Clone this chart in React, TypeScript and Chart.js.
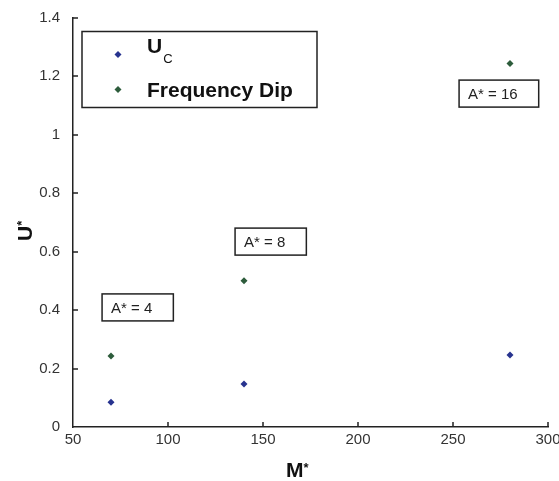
import React, { useEffect, useRef } from "react";
import { Chart, registerables } from "chart.js";

Chart.register(...registerables);

// ---- data ----
const ucMass = [70, 140, 280];
const ucValues = [0.085, 0.147, 0.246];
const dipMass = [70, 140, 280];
const dipValues = [0.243, 0.5, 1.243];
const xTickValues = [50, 100, 150, 200, 250, 300];
const yTickValues = [0, 0.2, 0.4, 0.6, 0.8, 1, 1.2, 1.4];
const annotationTexts = ["A* = 4", "A* = 8", "A* = 16"];
const annotationMass = [65.3, 135.3, 253.2];
const annotationU = [0.455, 0.68, 1.186];
const seriesNames = ["U", "Frequency Dip"];

const FONT = "'Liberation Sans', Arial, Helvetica, sans-serif";
const UC_COLOR = "#27338f";
const DIP_COLOR = "#2d5c3b";
const AXIS_COLOR = "#222";

const diamond = (ctx: CanvasRenderingContext2D, x: number, y: number, r: number, color: string) => {
  ctx.save();
  ctx.fillStyle = color;
  ctx.beginPath();
  ctx.moveTo(x, y - r);
  ctx.lineTo(x + r, y);
  ctx.lineTo(x, y + r);
  ctx.lineTo(x - r, y);
  ctx.closePath();
  ctx.fill();
  ctx.restore();
};

const decorPlugin = {
  id: "decor",
  afterDatasetsDraw(chart: any) {
    const ctx: CanvasRenderingContext2D = chart.ctx;
    const xs = chart.scales.x;
    const ys = chart.scales.y;
    const area = chart.chartArea;

    // inward tick marks
    ctx.save();
    ctx.strokeStyle = AXIS_COLOR;
    ctx.lineWidth = 1.5;
    ctx.beginPath();
    xTickValues.forEach((v) => {
      if (v === xTickValues[0]) return;
      const px = Math.round(xs.getPixelForValue(v));
      ctx.moveTo(px, area.bottom);
      ctx.lineTo(px, area.bottom - 5);
    });
    yTickValues.forEach((v) => {
      if (v === yTickValues[0]) return;
      const py = Math.round(ys.getPixelForValue(v));
      ctx.moveTo(area.left, py);
      ctx.lineTo(area.left + 5, py);
    });
    ctx.stroke();
    ctx.restore();

    // annotation boxes
    ctx.save();
    ctx.font = `15px ${FONT}`;
    ctx.textBaseline = "middle";
    ctx.textAlign = "left";
    annotationTexts.forEach((t, i) => {
      const px = xs.getPixelForValue(annotationMass[i]);
      const py = ys.getPixelForValue(annotationU[i]);
      const w = ctx.measureText(t).width + 30;
      const h = 27;
      ctx.fillStyle = "#fff";
      ctx.fillRect(px, py, w, h);
      ctx.strokeStyle = AXIS_COLOR;
      ctx.lineWidth = 1.5;
      ctx.strokeRect(px, py, w, h);
      ctx.fillStyle = "#222";
      ctx.fillText(t, px + 9, py + h / 2 + 1);
    });
    ctx.restore();

    // legend box
    ctx.save();
    const lx = area.left + 9;
    const ly = area.top + 14;
    const lw = 235;
    const lh = 76;
    ctx.fillStyle = "#fff";
    ctx.fillRect(lx, ly, lw, lh);
    ctx.strokeStyle = AXIS_COLOR;
    ctx.lineWidth = 1.5;
    ctx.strokeRect(lx, ly, lw, lh);
    diamond(ctx, lx + 36, ly + 23, 3.5, UC_COLOR);
    diamond(ctx, lx + 36, ly + 58, 3.5, DIP_COLOR);
    ctx.fillStyle = "#111";
    ctx.textBaseline = "alphabetic";
    ctx.font = `bold 21px ${FONT}`;
    ctx.fillText(seriesNames[0], lx + 65, ly + 21);
    const uw = ctx.measureText(seriesNames[0]).width;
    ctx.font = `13px ${FONT}`;
    ctx.fillText("C", lx + 66 + uw, ly + 31);
    ctx.font = `bold 21px ${FONT}`;
    ctx.fillText(seriesNames[1], lx + 65, ly + 65);
    ctx.restore();

    // axis titles
    ctx.save();
    ctx.fillStyle = "#111";
    ctx.font = `bold 21px ${FONT}`;
    ctx.textBaseline = "alphabetic";
    ctx.fillText("M", 286, 477);
    const mw = ctx.measureText("M").width;
    ctx.font = `bold 13px ${FONT}`;
    ctx.fillText("*", 286 + mw, 472);
    ctx.translate(32, 241);
    ctx.rotate(-Math.PI / 2);
    ctx.font = `bold 21px ${FONT}`;
    ctx.fillText("U", 0, 0);
    const uw2 = ctx.measureText("U").width;
    ctx.font = `bold 13px ${FONT}`;
    ctx.fillText("*", uw2, -6);
    ctx.restore();
  },
};

export default function App() {
  const ref = useRef<HTMLCanvasElement | null>(null);

  useEffect(() => {
    document.body.style.margin = "0";
    if (!ref.current) return;
    const chart = new Chart(ref.current, {
      type: "scatter",
      data: {
        datasets: [
          {
            label: "Uc",
            data: ucMass.map((m, i) => ({ x: m, y: ucValues[i] })),
            pointStyle: "rectRot",
            pointRadius: 3.5,
            backgroundColor: UC_COLOR,
            borderColor: UC_COLOR,
            borderWidth: 0,
          },
          {
            label: "Frequency Dip",
            data: dipMass.map((m, i) => ({ x: m, y: dipValues[i] })),
            pointStyle: "rectRot",
            pointRadius: 3.5,
            backgroundColor: DIP_COLOR,
            borderColor: DIP_COLOR,
            borderWidth: 0,
          },
        ],
      },
      options: {
        animation: false,
        responsive: false,
        maintainAspectRatio: false,
        layout: { padding: { top: 17.5, right: 11, left: 0, bottom: 0 } },
        plugins: { legend: { display: false }, tooltip: { enabled: false } },
        scales: {
          x: {
            type: "linear",
            min: 50,
            max: 300,
            afterBuildTicks: (s: any) => {
              s.ticks = xTickValues.map((v) => ({ value: v }));
            },
            ticks: {
              font: { family: FONT, size: 15 },
              color: "#333",
              padding: 4,
              maxRotation: 0,
              callback: (v: any) => String(v),
            },
            grid: { display: false, drawTicks: false },
            border: { display: true, color: AXIS_COLOR, width: 1.5 },
            afterFit: (s: any) => {
              s.height = 54;
              s.paddingLeft = 0;
              s.paddingRight = 0;
            },
          },
          y: {
            type: "linear",
            min: 0,
            max: 1.4,
            afterBuildTicks: (s: any) => {
              s.ticks = yTickValues.map((v) => ({ value: v }));
            },
            ticks: {
              font: { family: FONT, size: 15 },
              color: "#333",
              padding: 13,
              callback: (v: any) => String(Number(Number(v).toFixed(1))),
            },
            grid: { display: false, drawTicks: false },
            border: { display: true, color: AXIS_COLOR, width: 1.5 },
            afterFit: (s: any) => {
              s.width = 73;
              s.paddingTop = 0;
              s.paddingBottom = 0;
            },
          },
        },
      },
      plugins: [decorPlugin],
    } as any);
    return () => chart.destroy();
  }, []);

  return (
    <div style={{ width: 559, height: 481, position: "relative" }}>
      <canvas ref={ref} width={559} height={481} style={{ width: 559, height: 481, display: "block" }} />
    </div>
  );
}
